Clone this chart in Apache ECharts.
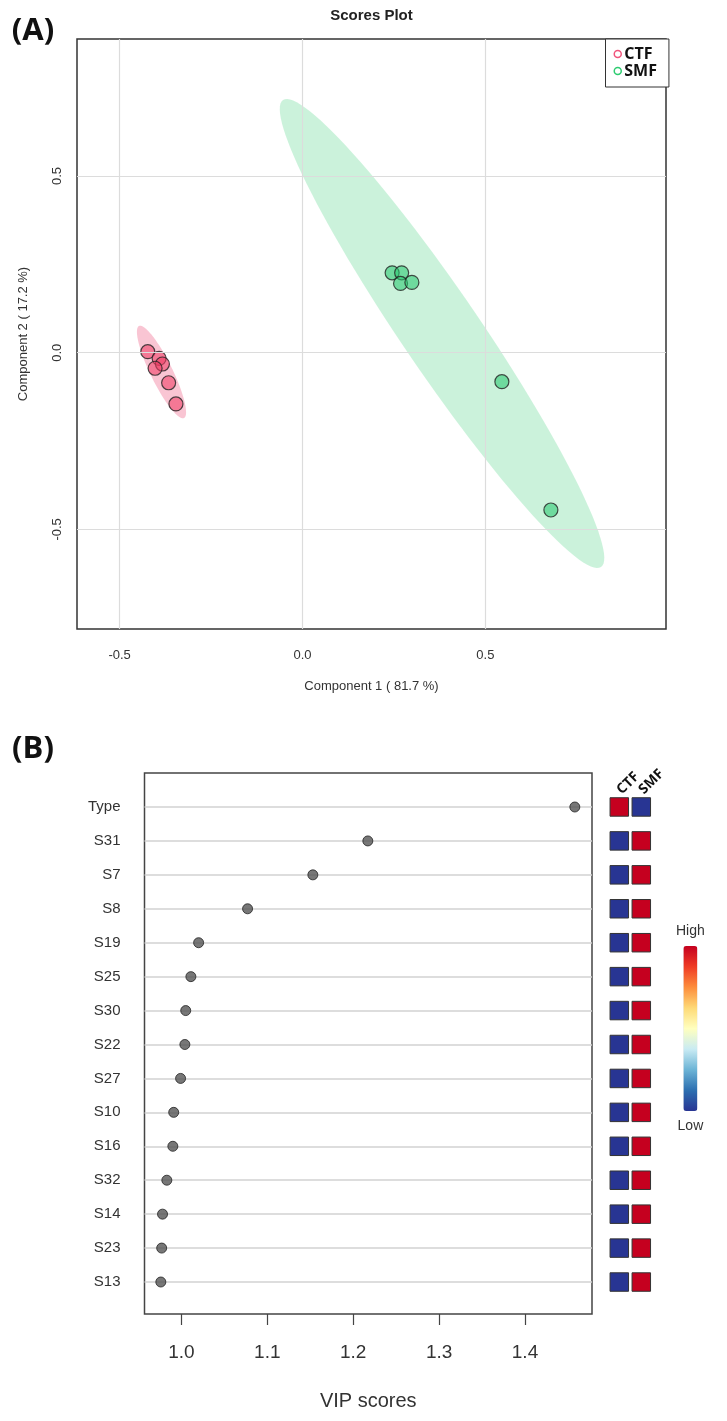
<!DOCTYPE html>
<html>
<head>
<meta charset="utf-8">
<script src="https://cdn.jsdelivr.net/npm/echarts@6/dist/echarts.min.js"></script>
<style>
html,body{margin:0;padding:0;background:#fff;}
#chart{width:727px;height:1421px;}
</style>
</head>
<body>
<div id="chart"></div>
<script>
// ---------- Panel A data ----------
const groupNames = ['CTF', 'SMF'];
const ctfPoints = [[-0.423,0.003],[-0.392,-0.016],[-0.383,-0.032],[-0.403,-0.044],[-0.366,-0.085],[-0.346,-0.145]];
const smfPoints = [[0.245,0.226],[0.271,0.226],[0.268,0.196],[0.299,0.199],[0.545,-0.082],[0.679,-0.445]];
// ellipse: centre x, centre y, semi-axis vector A (x,y), conjugate semi-axis vector B (x,y)
const ctfEllipse = [-0.3855,-0.0546,-0.0615,0.1302,0.0270,0.0137];
const smfEllipse = [0.3814,0.0543,-0.4347,0.6607,0.0882,0.0622];
const xTicksA = [-0.5, 0, 0.5];
const yTicksA = [-0.5, 0, 0.5];

// ---------- Panel B data ----------
const vipFeatures = ['Type','S31','S7','S8','S19','S25','S30','S22','S27','S10','S16','S32','S14','S23','S13'];
const vipScores   = [1.458,1.217,1.153,1.077,1.020,1.011,1.005,1.004,0.999,0.991,0.990,0.983,0.978,0.977,0.976];
const ctfLevel    = [1,0,0,0,0,0,0,0,0,0,0,0,0,0,0];
const smfLevel    = [0,1,1,1,1,1,1,1,1,1,1,1,1,1,1];
const vipTicks = [1.0, 1.1, 1.2, 1.3, 1.4];

const FONT = '"Liberation Sans", Arial, sans-serif';

function ellipseRender(fill) {
  return function (params, api) {
    const cx = api.value(0), cy = api.value(1), ax = api.value(2), ay = api.value(3), bx = api.value(4), by = api.value(5);
    const pts = [];
    const n = 120;
    for (let i = 0; i < n; i++) {
      const t = i / n * Math.PI * 2;
      pts.push(api.coord([cx + ax * Math.cos(t) + bx * Math.sin(t), cy + ay * Math.cos(t) + by * Math.sin(t)]));
    }
    return { type: 'polygon', shape: { points: pts }, style: { fill: fill } };
  };
}

const heatData = [];
vipFeatures.forEach((f, i) => {
  heatData.push([groupNames[0], f, ctfLevel[i]]);
  heatData.push([groupNames[1], f, smfLevel[i]]);
});

const chart = echarts.init(document.getElementById('chart'));
const option = {
  backgroundColor: '#ffffff',
  animation: false,
  graphic: [
    { type: 'text', x: 33, y: 31, style: { text: '(A)', font: 'bold 31px "Open Sans", sans-serif', fill: '#111', align: 'center', verticalAlign: 'middle' } },
    { type: 'text', x: 371.5, y: 16, style: { text: 'Scores Plot', font: 'bold 15px ' + FONT, fill: '#222', align: 'center', verticalAlign: 'middle' } },
    { type: 'text', x: 33, y: 749, style: { text: '(B)', font: 'bold 31px "Open Sans", sans-serif', fill: '#111', align: 'center', verticalAlign: 'middle' } }
  ],
  legend: {
    data: [
      { name: 'CTF', icon: 'circle', itemStyle: { color: '#ffffff', borderColor: '#f0557c', borderWidth: 1.5 } },
      { name: 'SMF', icon: 'circle', itemStyle: { color: '#ffffff', borderColor: '#2ecc71', borderWidth: 1.5 } }
    ],
    orient: 'vertical',
    left: 605.5, top: 39,
    padding: [7, 12, 8, 8],
    itemWidth: 7, itemHeight: 7, itemGap: 1,
    textStyle: { fontFamily: '"Open Sans", sans-serif', fontWeight: 'bold', fontSize: 16, color: '#111', lineHeight: 16, padding: [0, 0, 0, -2] },
    borderColor: '#333', borderWidth: 1, backgroundColor: '#fff',
    selectedMode: false
  },
  grid: [
    { left: 77, right: 61, top: 39, bottom: 792, show: true, borderColor: '#333', borderWidth: 1.5, backgroundColor: 'transparent' },
    { left: 144.5, right: 135, top: 773, bottom: 107, show: true, borderColor: '#444', borderWidth: 1.5, backgroundColor: 'transparent' },
    { left: 144.5, right: 135, top: 807, bottom: 139 },
    { left: 608.3, width: 44, top: 790, bottom: 122 }
  ],
  xAxis: [
    {
      gridIndex: 0, type: 'value', min: -0.6165, max: 0.9937,
      axisLine: { show: false },
      axisTick: { show: true, inside: false, length: 7, customValues: xTicksA, lineStyle: { color: '#333', width: 1 } },
      axisLabel: { customValues: xTicksA, margin: 20, fontFamily: FONT, fontSize: 13, color: '#333', formatter: v => v.toFixed(1) },
      splitLine: { show: false },
      name: 'Component 1 ( 81.7 %)', nameLocation: 'middle', nameGap: 51,
      nameTextStyle: { fontFamily: FONT, fontSize: 13, color: '#333' }
    },
    {
      gridIndex: 1, type: 'value', min: 0.957, max: 1.478,
      axisLine: { show: false },
      axisTick: { show: true, inside: false, length: 11, customValues: vipTicks, lineStyle: { color: '#444', width: 1.2 } },
      axisLabel: { customValues: vipTicks, margin: 29, fontFamily: FONT, fontSize: 19, color: '#333', formatter: v => v.toFixed(1) },
      splitLine: { show: false },
      name: 'VIP scores', nameLocation: 'middle', nameGap: 77,
      nameTextStyle: { fontFamily: FONT, fontSize: 20, color: '#333' }
    },
    {
      gridIndex: 2, type: 'value', min: 0.957, max: 1.478, show: false, splitLine: { show: false }
    },
    {
      gridIndex: 3, type: 'category', data: groupNames, position: 'top',
      axisLine: { show: false }, axisTick: { show: false }, splitLine: { show: false },
      axisLabel: { rotate: -45, margin: -2, interval: 0, align: 'left', verticalAlign: 'middle', fontFamily: '"Open Sans", sans-serif', fontWeight: 'bold', fontSize: 14, color: '#111' }
    }
  ],
  yAxis: [
    {
      gridIndex: 0, type: 'value', min: -0.7818, max: 0.8877,
      axisLine: { show: false },
      axisTick: { show: true, inside: false, length: 7, customValues: yTicksA, lineStyle: { color: '#333', width: 1 } },
      axisLabel: { customValues: yTicksA, rotate: 90, margin: 13, fontFamily: FONT, fontSize: 13, color: '#333', formatter: v => v.toFixed(1) },
      splitLine: { show: false },
      name: 'Component 2 ( 17.2 %)', nameLocation: 'middle', nameGap: 47,
      nameTextStyle: { fontFamily: FONT, fontSize: 13, color: '#333' }
    },
    { gridIndex: 1, type: 'value', min: 0, max: 1, show: false, splitLine: { show: false } },
    {
      gridIndex: 2, type: 'category', data: vipFeatures, inverse: true, boundaryGap: false,
      axisLine: { show: false }, axisTick: { show: false },
      axisLabel: { interval: 0, margin: 24, fontFamily: FONT, fontSize: 15, color: '#333' },
      splitLine: { show: true, interval: 0, lineStyle: { color: '#d2d2d2', width: 1.5 } }
    },
    {
      gridIndex: 3, type: 'category', data: vipFeatures, inverse: true, show: false
    }
  ],
  visualMap: {
    type: 'continuous', min: 0, max: 1, seriesIndex: 6, dimension: 2,
    calculable: false, orient: 'vertical',
    left: 661, top: 909, itemWidth: 14, itemHeight: 165,
    text: ['High', 'Low'], textGap: 8,
    textStyle: { fontFamily: FONT, fontSize: 14, color: '#333' },
    inRange: { color: ['#283593', '#2c6fb0', '#6cb4d6', '#c9ebf3', '#ffffbf', '#fed976', '#fd8d3c', '#ef3b24', '#c5001f'] }
  },
  series: [
    {
      type: 'scatter', xAxisIndex: 0, yAxisIndex: 0, data: [], z: 0, silent: true,
      markLine: {
        silent: true, symbol: 'none', label: { show: false },
        lineStyle: { color: '#dcdcdc', width: 1.2, type: 'solid' },
        data: xTicksA.map(v => ({ xAxis: v })).concat(yTicksA.map(v => ({ yAxis: v })))
      }
    },
    { type: 'custom', name: 'CTF', xAxisIndex: 0, yAxisIndex: 0, data: [ctfEllipse], renderItem: ellipseRender('rgba(235,62,108,0.3)'), z: 1, silent: true, encode: { x: 0, y: 1 } },
    { type: 'custom', name: 'SMF', xAxisIndex: 0, yAxisIndex: 0, data: [smfEllipse], renderItem: ellipseRender('rgba(46,204,113,0.25)'), z: 1, silent: true, encode: { x: 0, y: 1 } },
    {
      type: 'scatter', name: 'CTF', xAxisIndex: 0, yAxisIndex: 0, data: ctfPoints, symbolSize: 14, z: 3,
      itemStyle: { color: 'rgba(240,60,100,0.7)', borderColor: '#222', borderWidth: 1.2 }
    },
    {
      type: 'scatter', name: 'SMF', xAxisIndex: 0, yAxisIndex: 0, data: smfPoints, symbolSize: 14, z: 3,
      itemStyle: { color: 'rgba(40,200,110,0.7)', borderColor: '#222', borderWidth: 1.2 }
    },
    {
      type: 'scatter', xAxisIndex: 2, yAxisIndex: 2, symbolSize: 10, z: 3,
      data: vipFeatures.map((f, i) => [vipScores[i], f]),
      itemStyle: { color: '#555', borderColor: '#222', borderWidth: 1 }
    },
    {
      type: 'custom', xAxisIndex: 3, yAxisIndex: 3, data: heatData, encode: { x: 0, y: 1 },
      renderItem: function (params, api) {
        const c = api.coord([api.value(0), api.value(1)]);
        const band = api.size([1, 1]);
        const s = band[0] * 0.84;
        return {
          type: 'rect',
          shape: { x: c[0] - s / 2, y: c[1] - s / 2, width: s, height: s },
          style: { fill: api.visual('color'), stroke: '#333', lineWidth: 1 }
        };
      }
    }
  ]
};
chart.setOption(option);
</script>
</body>
</html>
